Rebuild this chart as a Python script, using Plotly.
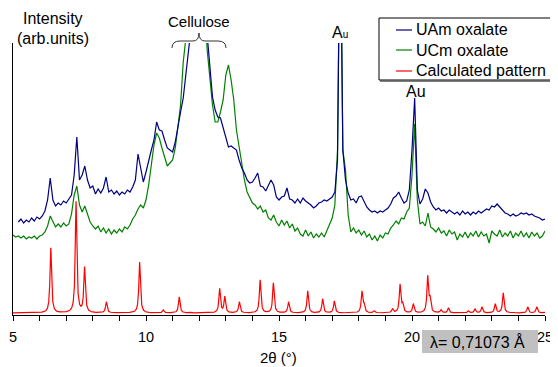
import numpy as np
import plotly.graph_objects as go

# ---------------- data (2-theta in degrees, intensity in arbitrary units) ----------------
# UAm oxalate, sampled every 0.1 deg from 5.2 to 25.0
uam_values = [
    93, 96, 92, 95, 93, 97, 94, 98,                      # 5.2-5.9
    96, 99, 104, 115, 137, 115, 109, 112, 110, 114,      # 6.0-6.9
    112, 116, 120, 140, 178, 135, 140, 149, 135, 127,    # 7.0-7.9
    129, 121, 126, 122, 127, 138, 123, 125, 121, 124,    # 8.0-8.9
    120, 123, 121, 125, 123, 128, 135, 161, 145, 133,    # 9.0-9.9
    143, 155, 165, 175, 193, 185, 184, 175, 167, 165,    # 10.0-10.9
    163, 173, 190, 203, 217, 245, 270, 300, 330, 350,    # 11.0-11.9
    360, 355, 335, 280, 248, 218, 205, 198, 197, 188,    # 12.0-12.9
    178, 168, 169, 167, 165, 155, 147, 142, 135, 132,    # 13.0-13.9
    133, 137, 142, 129, 128, 124, 129, 135, 130, 118,    # 14.0-14.9
    115, 118, 119, 127, 116, 115, 112, 116, 112, 117,    # 15.0-15.9
    114, 112, 110, 107, 109, 112, 113, 115, 114, 116,    # 16.0-16.9
    118, 123, 155, 420, 165, 135, 122, 115, 116, 112,    # 17.0-17.9
    118, 119, 113, 108, 105, 103, 104, 102, 104, 103,    # 18.0-18.9
    105, 107, 111, 117, 119, 123, 117, 112, 114, 125,    # 19.0-19.9
    165, 217, 125, 111, 116, 126, 122, 113, 108, 105,    # 20.0-20.9
    107, 104, 105, 102, 105, 103, 101, 103, 100, 104,    # 21.0-21.9
    101, 103, 100, 103, 101, 104, 102, 104, 106, 105,    # 22.0-22.9
    109, 108, 111, 108, 105, 102, 101, 99, 101, 99,      # 23.0-23.9
    100, 102, 101, 102, 100, 101, 99, 98, 97, 95,        # 24.0-24.9
    96,                                                  # 25.0
]
uam_start = 5.2

# UCm oxalate, sampled every 0.1 deg from 5.0 to 25.0
ucm_values = [
    80, 78, 79, 77, 79, 76, 78, 77, 79, 76,              # 5.0-5.9
    79, 80, 83, 89, 99, 93, 88, 91, 88, 92,              # 6.0-6.9
    89, 91, 101, 120, 129, 110, 103, 109, 100, 93,       # 7.0-7.9
    89, 86, 89, 83, 87, 82, 86, 81, 85, 82,              # 8.0-8.9
    86, 83, 88, 86, 90, 96, 100, 106, 110, 107,          # 9.0-9.9
    115, 130, 150, 170, 182, 177, 167, 157, 149, 152,    # 10.0-10.9
    155, 167, 187, 210, 253, 285, 310, 335, 350, 360,    # 11.0-11.9
    360, 345, 310, 265, 233, 210, 193, 193, 203, 215,    # 12.0-12.9
    240, 250, 235, 215, 185, 167, 150, 135, 123, 118,    # 13.0-13.9
    112, 110, 106, 109, 103, 105, 97, 95, 100, 93,       # 14.0-14.9
    89, 95, 90, 94, 87, 91, 84, 87, 81, 79,              # 15.0-15.9
    85, 79, 83, 77, 81, 78, 82, 78, 84, 91,              # 16.0-16.9
    97, 110, 165, 420, 165, 145, 100, 83, 87, 82,        # 17.0-17.9
    85, 80, 84, 78, 81, 75, 79, 74, 80, 77,              # 18.0-18.9
    82, 81, 87, 90, 94, 91, 97, 96, 103, 107,            # 19.0-19.9
    140, 191, 115, 91, 93, 89, 102, 88, 86, 83,          # 20.0-20.9
    87, 82, 84, 79, 85, 81, 83, 75, 81, 78,              # 21.0-21.9
    83, 77, 82, 79, 84, 78, 83, 79, 81, 72,              # 22.0-22.9
    84, 81, 79, 85, 78, 82, 79, 84, 77, 82,              # 23.0-23.9
    79, 84, 78, 82, 77, 83, 79, 82, 77, 79,              # 24.0-24.9
    84,                                                  # 25.0
]
ucm_start = 5.0
step = 0.1

# Calculated pattern: reflection positions (deg) and heights above its baseline
calc_positions = [6.42, 7.37, 7.69, 8.51, 9.76, 10.65, 11.25, 11.62, 12.77, 12.96,
                  13.51, 14.29, 14.79, 15.36, 16.08, 16.64, 17.08, 18.12, 18.20, 18.58,
                  19.27, 19.55, 19.65, 20.05, 20.59, 20.68, 21.09, 21.37, 22.12, 22.37,
                  22.63, 23.13, 23.43, 23.81, 24.35, 24.69, 24.96]
calc_heights = [65, 111, 45, 11, 51, 3, 16, 1, 24, 16,
                11, 33, 30, 11, 22, 14, 12, 21, 7, 2,
                4, 28, 8, 9, 36, 13, 3, 5, 2, 4,
                6, 9, 20, 1, 6, 6, 1]
calc_baseline = 2
calc_halfwidth = 0.035

x_ticks = [5, 10, 15, 20, 25]

# ---------------- build traces ----------------
x_uam = np.round(uam_start + step * np.arange(len(uam_values)), 2)
x_ucm = np.round(ucm_start + step * np.arange(len(ucm_values)), 2)

x_calc = np.linspace(5, 25, 4001)
y_calc = np.full_like(x_calc, float(calc_baseline))
for p, h in zip(calc_positions, calc_heights):
    y_calc += h / (1.0 + ((x_calc - p) / calc_halfwidth) ** 2)

FONT = "Liberation Sans, Arial, sans-serif"

fig = go.Figure()
fig.add_trace(go.Scatter(x=x_calc, y=y_calc, mode="lines", name="Calculated pattern",
                         line=dict(color="#ff0000", width=1.2)))
fig.add_trace(go.Scatter(x=x_ucm, y=ucm_values, mode="lines", name="UCm oxalate",
                         line=dict(color="#008000", width=1.2)))
fig.add_trace(go.Scatter(x=x_uam, y=uam_values, mode="lines", name="UAm oxalate",
                         line=dict(color="#000080", width=1.2)))

# The page body has an 8px margin, so the figure is drawn 8px in from the
# window's top-left corner.  Geometry below is in window pixels.
OFF = 8
W, H = 558 - OFF, 367 - OFF
L, R, T, B = 13, 545, 43, 315          # plot area in window pixels


def pxx(xp):
    return (xp - L) / (R - L)


def pxy(yp):
    return (B - yp) / (B - T)


fig.update_layout(
    width=W, height=H,
    margin=dict(l=L - OFF, r=W - (R - OFF), t=T - OFF, b=H - (B - OFF), autoexpand=False),
    plot_bgcolor="white", paper_bgcolor="white",
    showlegend=False,
    font=dict(family=FONT, color="black", size=14),
    xaxis=dict(range=[5, 25], tickvals=x_ticks, ticktext=[str(v) for v in x_ticks],
               ticks="outside", ticklen=5, tickwidth=1, tickcolor="black",
               showline=True, linecolor="black", linewidth=1,
               showgrid=False, zeroline=False, automargin=False,
               ticklabelstandoff=4,
               tickfont=dict(size=14.5, family=FONT, color="black"),
               minor=dict(dtick=1, ticks="outside", ticklen=5, tickcolor="black", showgrid=False)),
    yaxis=dict(range=[0, B - T], showline=True, linecolor="black", linewidth=1,
               showticklabels=False, ticks="", showgrid=False, zeroline=False,
               automargin=False),
)

ann = []


def text(s, xp, yp, size=16, anchor="center"):
    ann.append(dict(text=s, x=pxx(xp), y=pxy(yp), xref="paper", yref="paper",
                    xanchor=anchor, yanchor="middle", showarrow=False,
                    font=dict(size=size, family=FONT, color="black")))


text("Intensity", 53, 18)
text("(arb.units)", 53, 38)
text("Cellulose", 199, 21, size=15)
text("A<span style='font-size:10px'>u</span>", 340, 33, size=16)
text("Au", 416, 91, size=16)
text("2θ (°)", 278, 357, size=15)

shapes = []
# brace over cellulose
pts = [(172, 48), (172, 41), (180, 41), (193, 41), (199, 41), (199, 33),
       (199, 41), (205, 41), (218, 41), (226, 41), (226, 48)]
P = [f"{pxx(a):.5f},{pxy(b):.5f}" for a, b in pts]
path = (f"M {P[0]} Q {P[1]} {P[2]} L {P[3]} Q {P[4]} {P[5]} "
        f"Q {P[6]} {P[7]} L {P[8]} Q {P[9]} {P[10]}")
shapes.append(dict(type="path", path=path, xref="paper", yref="paper",
                   line=dict(color="#333333", width=1)))

# legend box
shapes.append(dict(type="rect", xref="paper", yref="paper",
                   x0=pxx(379), x1=pxx(554), y0=pxy(80), y1=pxy(18),
                   line=dict(color="black", width=1), fillcolor="white"))
shapes.append(dict(type="line", xref="paper", yref="paper",
                   x0=pxx(380), x1=pxx(555), y0=pxy(81), y1=pxy(81),
                   line=dict(color="#555555", width=1.5)))
legend_items = [("UAm oxalate", "#000080", 30), ("UCm oxalate", "#008000", 50),
                ("Calculated pattern", "#ff0000", 71)]
for name, col, yy in legend_items:
    shapes.append(dict(type="line", xref="paper", yref="paper",
                       x0=pxx(396), x1=pxx(412), y0=pxy(yy), y1=pxy(yy),
                       line=dict(color=col, width=1.2)))
    text(name, 414, yy, size=16, anchor="left")

# wavelength box
shapes.append(dict(type="rect", xref="paper", yref="paper",
                   x0=pxx(422), x1=pxx(538), y0=pxy(353), y1=pxy(330),
                   line=dict(width=0), fillcolor="#c0c0c0"))
text("λ= 0,71073 Å", 477, 342, size=16)

fig.update_layout(annotations=ann, shapes=shapes)
fig.write_html("out.html")
